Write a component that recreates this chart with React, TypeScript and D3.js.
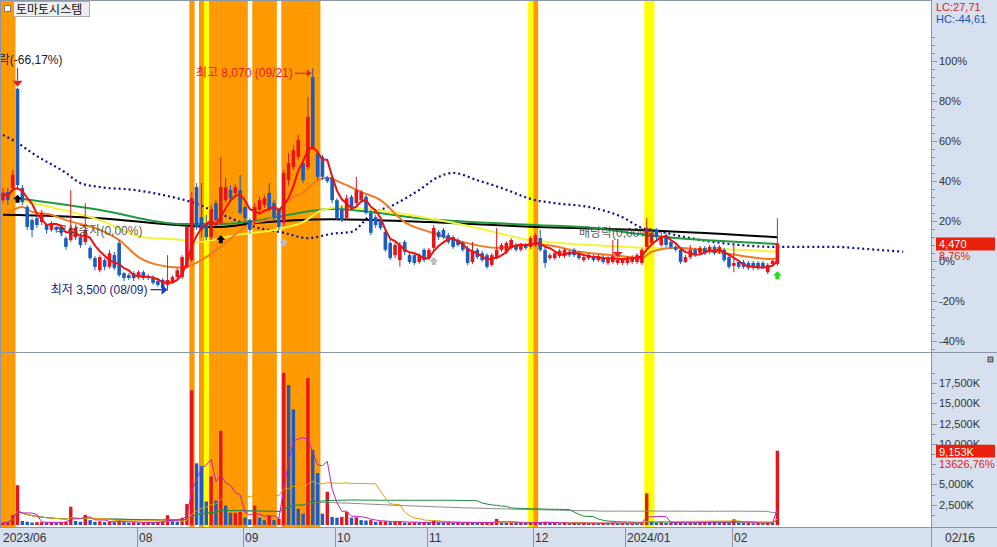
import { useEffect, useRef } from "react";
import * as d3 from "d3";

// daily bars, 2023-06-21 .. 2024-02-16 (prices in won)
const opens = [
  5360, 5530, 5610, 7650, 5610, 5220, 4950, 4990, 4910, 4850,
  4750, 4810, 4810, 4580, 4540, 4600, 4600, 4500, 4380, 4170,
  3920, 4130, 3990, 4230, 4480, 3860, 3820, 3860, 3780, 3880,
  3800, 3780, 3700, 3720, 3620, 3680, 3780, 3780, 3990, 4130,
  5630, 5010, 4890, 4600, 5300, 4890, 5360, 5570, 5510, 5570,
  5220, 4950, 4950, 5160, 5260, 5510, 5300, 5160, 4890, 5770,
  6040, 6250, 6120, 6040, 7890, 6330, 6250, 5820, 5820, 5360,
  5160, 4990, 5430, 5300, 5360, 5430, 5100, 5010, 4950, 4710,
  4480, 4230, 4130, 4500, 4230, 4230, 4090, 4340, 4170, 4380,
  4710, 4750, 4640, 4600, 4540, 4480, 4380, 4090, 4340, 4270,
  4230, 4030, 4190, 4340, 4300, 4380, 4440, 4340, 4440, 4400,
  4440, 4580, 4340, 4170, 4170, 4210, 4210, 4300, 4340, 4270,
  4130, 4170, 4210, 4130, 4190, 4070, 4090, 4070, 4070, 4070,
  4090, 4090, 4070, 4400, 4480, 4750, 4440, 4640, 4500, 4400,
  4340, 4090, 4190, 4340, 4270, 4380, 4300, 4400, 4300, 4340,
  4190, 4010, 4090, 4090, 4070, 4070, 4070, 4070, 3880, 4050,
  4050,
];
const highs = [
  5610, 5610, 5980, 7670, 5670, 5260, 4990, 5060, 5160, 4850,
  4930, 4830, 4850, 4620, 5570, 4830, 4670, 5300, 4420, 4210,
  4230, 4170, 4340, 4300, 4540, 3880, 3860, 3900, 3920, 3920,
  3840, 3820, 3740, 3760, 4230, 3820, 3970, 4230, 4850, 5530,
  5710, 5710, 5060, 5260, 5360, 6250, 5820, 5670, 5690, 5880,
  5260, 4990, 5300, 5430, 5470, 5710, 5360, 5200, 5980, 6330,
  6490, 6700, 6190, 7480, 8070, 6390, 6290, 5860, 5860, 5400,
  5260, 5470, 5470, 5840, 5570, 5470, 5160, 5060, 4990, 4750,
  4540, 4480, 4500, 4540, 4270, 4270, 4270, 4380, 4380, 4850,
  4750, 4790, 4690, 4640, 4580, 4520, 4420, 4500, 4380, 4320,
  4270, 4270, 4790, 4480, 4520, 4580, 4480, 4480, 4480, 4620,
  4690, 4750, 4380, 4270, 4320, 4360, 4380, 4340, 4380, 4320,
  4230, 4270, 4250, 4250, 4230, 4210, 4540, 4170, 4170, 4210,
  4230, 4270, 4380, 4990, 4750, 4790, 4710, 4690, 4540, 4440,
  4380, 4230, 4440, 4380, 4420, 4420, 4440, 4440, 4440, 4380,
  4230, 4480, 4130, 4130, 4110, 4110, 4110, 4110, 4070, 4130,
  4990,
];
const lows = [
  5300, 5260, 5530, 5570, 5260, 4750, 4600, 4790, 4850, 4670,
  4710, 4690, 4620, 4340, 4500, 4540, 4380, 4440, 4130, 3920,
  3880, 3920, 3950, 3920, 3780, 3700, 3720, 3700, 3740, 3720,
  3720, 3620, 3580, 3530, 3500, 3640, 3740, 3740, 3950, 4090,
  4750, 4600, 4540, 4540, 4890, 4850, 5300, 5360, 5450, 5060,
  4910, 4690, 4850, 5120, 5200, 5120, 4950, 4750, 4830, 5670,
  5980, 6190, 5710, 5980, 6390, 5770, 5770, 5710, 5300, 4950,
  4910, 4950, 5160, 5260, 5320, 5060, 4640, 4790, 4750, 4300,
  4130, 4170, 3990, 4230, 4050, 4030, 4050, 4090, 4130, 4340,
  4540, 4560, 4460, 4360, 4400, 4300, 4030, 4050, 4150, 4090,
  3950, 3990, 4150, 4300, 4250, 4340, 4300, 4300, 4340, 4360,
  4400, 4300, 3970, 4130, 4130, 4170, 4170, 4190, 4190, 4130,
  4090, 4130, 4090, 4090, 4050, 4030, 4050, 4030, 4030, 4030,
  4050, 4050, 4030, 4340, 4440, 4540, 4400, 4400, 4360, 4300,
  4050, 4070, 4150, 4190, 4230, 4230, 4250, 4230, 4250, 4090,
  3950, 3880, 3950, 3950, 3920, 3920, 3920, 3950, 3840, 4010,
  4010,
];
const closes = [
  5510, 5360, 5880, 5670, 5320, 4810, 4750, 4850, 5100, 4750,
  4890, 4750, 4690, 4400, 4790, 4790, 4440, 4750, 4170, 3990,
  4190, 3990, 4270, 3970, 3820, 3760, 3760, 3760, 3880, 3760,
  3760, 3660, 3620, 3560, 3720, 3780, 3920, 4190, 4810, 5400,
  4810, 4750, 4600, 5160, 4950, 5630, 5630, 5400, 5630, 5100,
  4990, 4750, 5220, 5360, 5400, 5160, 5010, 4810, 5920, 6120,
  6390, 6600, 5770, 7070, 6450, 5840, 5840, 5750, 5360, 4990,
  4950, 5400, 5220, 5570, 5530, 5100, 4690, 4850, 4790, 4340,
  4170, 4440, 4440, 4300, 4090, 4070, 4230, 4130, 4340, 4790,
  4600, 4600, 4500, 4400, 4440, 4340, 4070, 4300, 4190, 4130,
  3990, 4230, 4340, 4440, 4480, 4540, 4340, 4440, 4380, 4580,
  4640, 4340, 4070, 4230, 4270, 4320, 4340, 4230, 4230, 4170,
  4190, 4230, 4130, 4210, 4090, 4170, 4210, 4130, 4130, 4170,
  4190, 4230, 4340, 4790, 4690, 4600, 4580, 4440, 4400, 4340,
  4090, 4190, 4340, 4230, 4380, 4270, 4400, 4270, 4400, 4130,
  3990, 4070, 3990, 3990, 3970, 3970, 3970, 3990, 4030, 4110,
  4470,
];
// volume in thousands of shares
const volumes = [
  300, 400, 1250, 4900, 500, 400, 300, 350, 350, 300,
  350, 300, 350, 400, 2250, 500, 400, 1250, 600, 400,
  450, 350, 400, 350, 600, 350, 300, 350, 300, 300,
  350, 300, 400, 450, 1200, 500, 400, 900, 2600, 16600,
  7600, 7250, 2900, 6000, 3000, 11600, 2400, 1500, 1500, 1600,
  900, 700, 2400, 900, 600, 1200, 600, 800, 18750, 17250,
  14250, 2000, 1400, 18100, 9250, 6400, 1400, 4100, 1000, 900,
  1000, 1600, 900, 950, 600, 550, 600, 400, 450, 450,
  350, 400, 450, 300, 300, 350, 300, 350, 300, 500,
  350, 300, 300, 250, 300, 250, 350, 300, 250, 300,
  300, 350, 750, 300, 250, 300, 250, 300, 250, 300,
  350, 300, 400, 250, 250, 200, 250, 200, 250, 200,
  250, 200, 250, 200, 250, 200, 300, 200, 250, 200,
  250, 200, 350, 3900, 400, 300, 350, 250, 300, 250,
  300, 250, 300, 250, 350, 400, 350, 400, 300, 350,
  300, 700, 300, 250, 250, 200, 250, 200, 300, 250,
  9153,
];

const monthStarts = [0, 28, 50, 69, 88, 110, 129, 151];
const monthLabels = ["2023/06", "08", "09", "10", "11", "12", "2024/01", "02"];

// highlighted days (bar index)
const orangeDays = [0, 1, 2, 39, 41, 43, 44, 45, 46, 47, 48, 49, 50, 52, 53, 54, 55, 56, 58, 59, 60, 61, 62, 63, 64, 65, 110];
const yellowDays = [42, 109, 133, 134];

// moving averages: [bar index, price]
const ma20Knots = [
  [1, 5100], [4, 5220], [6, 5120], [10, 5060], [13, 4950], [20, 4750], [24, 4540], [28, 4190],
  [32, 4030], [37, 3970], [39, 4030], [42, 4190], [45, 4400], [51, 4870], [55, 4970], [57, 5100],
  [59, 5360], [62, 5510], [65, 5770], [67, 5820], [70, 5710], [74, 5530], [78, 5360], [83, 4910],
  [88, 4710], [95, 4500], [102, 4380], [109, 4440], [112, 4440], [119, 4300], [126, 4230],
  [132, 4170], [134, 4300], [139, 4380], [149, 4270], [159, 4150], [160, 4170],
];
const ma60Knots = [
  [3, 5360], [5, 5320], [20, 4950], [29, 4600], [37, 4540], [40, 4500], [48, 4640], [58, 4790],
  [62, 4910], [66, 5160], [70, 5220], [81, 5100], [98, 4790], [109, 4540], [129, 4400],
  [152, 4340], [160, 4300],
];
const ma120Knots = [
  [3, 5400], [20, 5160], [37, 4870], [45, 4870], [52, 4930], [58, 5040], [68, 5180], [88, 4970],
  [110, 4850], [122, 4790], [133, 4640], [152, 4500], [160, 4460],
];
const ma240Knots = [
  [0, 5060], [20, 4990], [36, 4850], [45, 4810], [52, 4890], [68, 4970], [88, 4910],
  [110, 4810], [130, 4750], [160, 4600],
];
// leading span, runs 26 bars past the last day
const spanKnots = [
  [0, 6700], [3, 6540], [6, 6330], [13, 5920], [16, 5710], [20, 5630], [27, 5570], [36, 5400],
  [39, 5320], [44, 5120], [48, 4950], [52, 4810], [58, 4690], [63, 4580], [68, 4670], [72, 4710],
  [76, 5060], [81, 5280], [86, 5570], [90, 5840], [93, 5920], [98, 5770], [103, 5610], [110, 5360],
  [114, 5300], [122, 5200], [128, 5010], [132, 4790], [135, 4730], [142, 4580], [152, 4440],
  [159, 4400], [172, 4400], [178, 4360], [186, 4300],
];

// signal arrows: bar, price level of the arrow tip, kind
const signals = [
  { i: 3, p: 5470, kind: "up", color: "#000" },
  { i: 45, p: 4640, kind: "up", color: "#000" },
  { i: 58, p: 4580, kind: "up", color: "#b8bcc8" },
  { i: 89, p: 4190, kind: "up", color: "#b8bcc8" },
  { i: 160, p: 3900, kind: "up", color: "#22dd22" },
  { i: 127, p: 4190, kind: "down", color: "#e8201c" },
];

const pctTicks = [-40, -20, 0, 20, 40, 60, 80, 100];
const volTicks = [2500, 5000, 10000, 12500, 15000, 17500];
const volPeriods = [120, 60, 20, 5];
const volColors = ["#8a8a8a", "#1a8a3a", "#e0a010", "#c020c0"];

const FONT = "'Liberation Sans', 'Noto Sans CJK KR', sans-serif";

export default function App() {
  const width = 997;
  const height = 547;
  const ref = useRef(null);

  useEffect(() => {
    const svg = d3.select(ref.current);
    svg.selectAll("*").remove();

    const axisX = 931;
    const priceBottom = 352;
    const volBottom = 527;
    const base = 4110; // previous close = 0%
    const n = closes.length;

    const x = d3.scaleLinear().domain([0, 160]).range([3, 777.4]);
    const step = x(1) - x(0);
    const yPct = d3.scaleLinear().domain([-45, 127]).range([351, 7]);
    const yP = (p) => yPct((p / base - 1) * 100);
    const yV = d3.scaleLinear().domain([0, 17500]).range([525, 383]);

    svg.append("rect").attr("width", width).attr("height", height).attr("fill", "#fff");

    // highlight bands over both panels
    const bandG = svg.append("g");
    const addBands = (days, color) =>
      bandG
        .selectAll(null)
        .data(days)
        .enter()
        .append("rect")
        .attr("x", (d) => Math.max(0, x(d) - step / 2))
        .attr("y", 1)
        .attr("width", (d) => x(d) + step / 2 + 0.4 - Math.max(0, x(d) - step / 2))
        .attr("height", volBottom - 1)
        .attr("fill", color);
    addBands(orangeDays, "#ff9900");
    addBands(yellowDays, "#ffff00");

    const defs = svg.append("defs");
    defs.append("clipPath").attr("id", "pclip").append("rect")
      .attr("x", 0).attr("y", 1).attr("width", axisX).attr("height", priceBottom - 1);
    defs.append("clipPath").attr("id", "vclip").append("rect")
      .attr("x", 0).attr("y", priceBottom + 1).attr("width", axisX).attr("height", volBottom - priceBottom - 1);

    const price = svg.append("g").attr("clip-path", "url(#pclip)");
    const knotLine = d3.line().x((d) => x(d[0])).y((d) => yP(d[1])).curve(d3.curveMonotoneX);

    price.append("path").attr("d", knotLine(spanKnots)).attr("fill", "none")
      .attr("stroke", "#10108c").attr("stroke-width", 2.2).attr("stroke-dasharray", "2,3");
    price.append("path").attr("d", knotLine(ma240Knots)).attr("fill", "none")
      .attr("stroke", "#000").attr("stroke-width", 2);
    price.append("path").attr("d", knotLine(ma120Knots)).attr("fill", "none")
      .attr("stroke", "#1e9a40").attr("stroke-width", 2);
    price.append("path").attr("d", knotLine(ma60Knots)).attr("fill", "none")
      .attr("stroke", "#f4f43c").attr("stroke-width", 2);
    price.append("path").attr("d", knotLine(ma20Knots)).attr("fill", "none")
      .attr("stroke", "#f27a20").attr("stroke-width", 2);

    // candles
    const idx = d3.range(n);
    const up = (i) => closes[i] >= opens[i];
    const candle = price.selectAll("g.c").data(idx).enter().append("g");
    candle.append("line")
      .attr("x1", (i) => x(i)).attr("x2", (i) => x(i))
      .attr("y1", (i) => yP(highs[i])).attr("y2", (i) => yP(lows[i]))
      .attr("stroke", (i) => (up(i) ? "#e8141c" : "#1a5cc4")).attr("stroke-width", 1);
    candle.append("rect")
      .attr("x", (i) => x(i) - 1.8).attr("width", 3.6)
      .attr("y", (i) => yP(Math.max(opens[i], closes[i])))
      .attr("height", (i) => Math.max(1, Math.abs(yP(opens[i]) - yP(closes[i]))))
      .attr("fill", (i) => (up(i) ? "#e8141c" : "#1a5cc4"));

    // 5-day average
    const ma5 = closes.map((c, i) => d3.mean(closes.slice(Math.max(0, i - 4), i + 1)));
    price.append("path")
      .attr("d", d3.line().x((d, i) => x(i)).y((d) => yP(d))(ma5))
      .attr("fill", "none").attr("stroke", "#f01010").attr("stroke-width", 2);

    // signal arrows
    signals.forEach((s) => {
      const cx = x(s.i);
      const ty = yP(s.p);
      const d = s.kind === "up"
        ? `M${cx},${ty} L${cx + 4.5},${ty + 4.5} L${cx + 2},${ty + 4.5} L${cx + 2},${ty + 8} L${cx - 2},${ty + 8} L${cx - 2},${ty + 4.5} L${cx - 4.5},${ty + 4.5} Z`
        : `M${cx},${ty} L${cx + 5},${ty - 5} L${cx - 5},${ty - 5} Z`;
      if (s.kind === "down") {
        price.append("line").attr("x1", cx).attr("x2", cx).attr("y1", ty - 18).attr("y2", ty - 5)
          .attr("stroke", s.color).attr("stroke-width", 1.2);
      }
      price.append("path").attr("d", d).attr("fill", s.color);
    });

    // rights-issue marker over the spike bar
    const rx = x(3);
    const ry = yP(highs[3]);
    price.append("line").attr("x1", rx).attr("x2", rx).attr("y1", ry - 20).attr("y2", ry - 7)
      .attr("stroke", "#e8201c").attr("stroke-width", 1.2);
    price.append("path").attr("d", `M${rx - 5},${ry - 7} L${rx + 5},${ry - 7} L${rx},${ry - 1} Z`).attr("fill", "#e8201c");
    price.append("text").attr("x", rx + 45).attr("y", ry - 24).attr("text-anchor", "end")
      .attr("font-family", FONT).attr("font-size", 12).attr("fill", "#222").text("권리락(-66,17%)");

    // event labels
    price.append("text").attr("x", x(11)).attr("y", yP(4640))
      .attr("font-family", FONT).attr("font-size", 12).attr("fill", "#444").attr("opacity", 0.85)
      .text("무상증자(0,00%)");
    price.append("text").attr("x", x(119)).attr("y", yP(4600))
      .attr("font-family", FONT).attr("font-size", 12).attr("fill", "#444").attr("opacity", 0.85)
      .text("배당락(0,00%)");

    // high / low labels
    const hx = x(64);
    const hy = yP(8070) + 5;
    price.append("text").attr("x", hx - 20).attr("y", hy + 4).attr("text-anchor", "end")
      .attr("font-family", FONT).attr("font-size", 12).attr("fill", "#e8201c").text("최고 8,070 (09/21)");
    price.append("line").attr("x1", hx - 18).attr("x2", hx - 6).attr("y1", hy).attr("y2", hy)
      .attr("stroke", "#e8201c").attr("stroke-width", 1.2);
    price.append("path").attr("d", `M${hx - 6},${hy - 3.5} L${hx - 1},${hy} L${hx - 6},${hy + 3.5} Z`).attr("fill", "#e8201c");

    const lx = x(34);
    const ly = yP(3500) - 1;
    price.append("text").attr("x", lx - 20).attr("y", ly + 4).attr("text-anchor", "end")
      .attr("font-family", FONT).attr("font-size", 12).attr("fill", "#1a237e").text("최저 3,500 (08/09)");
    price.append("line").attr("x1", lx - 17).attr("x2", lx - 6).attr("y1", ly).attr("y2", ly)
      .attr("stroke", "#1a237e").attr("stroke-width", 1.2);
    price.append("path").attr("d", `M${lx - 6},${ly - 5} L${lx},${ly} L${lx - 6},${ly + 5} Z`).attr("fill", "#1a3ad0");

    // volume bars
    const vol = svg.append("g").attr("clip-path", "url(#vclip)");
    vol.selectAll("rect.v").data(idx).enter().append("rect")
      .attr("x", (i) => x(i) - 1.7).attr("width", 3.4)
      .attr("y", (i) => yV(volumes[i]))
      .attr("height", (i) => yV(0) - yV(volumes[i]))
      .attr("fill", (i) => (i === 0 || volumes[i] >= volumes[i - 1] ? "#e8141c" : "#1a5cc4"));

    volPeriods.forEach((p, k) => {
      const avg = volumes.map((v, i) => d3.mean(volumes.slice(Math.max(0, i - p + 1), i + 1)));
      vol.append("path")
        .attr("d", d3.line().x((d, i) => x(i)).y((d) => yV(d))(avg))
        .attr("fill", "none").attr("stroke", volColors[k]).attr("stroke-width", 1);
    });

    // frame lines
    svg.append("line").attr("x1", 0).attr("x2", width).attr("y1", priceBottom + 0.5).attr("y2", priceBottom + 0.5)
      .attr("stroke", "#8c96a8");
    svg.append("line").attr("x1", 0.5).attr("x2", 0.5).attr("y1", 0).attr("y2", volBottom).attr("stroke", "#8c96a8");
    svg.append("line").attr("x1", 0).attr("x2", axisX).attr("y1", 0.5).attr("y2", 0.5).attr("stroke", "#8c96a8");

    // right axis panel
    svg.append("rect").attr("x", axisX).attr("y", 0).attr("width", width - axisX).attr("height", height).attr("fill", "#d6e0ee");
    svg.append("rect").attr("x", 0).attr("y", volBottom).attr("width", axisX).attr("height", height - volBottom).attr("fill", "#d6e0ee");
    svg.append("line").attr("x1", axisX + 0.5).attr("x2", axisX + 0.5).attr("y1", 0).attr("y2", height).attr("stroke", "#8c96a8");
    svg.append("line").attr("x1", axisX).attr("x2", width).attr("y1", priceBottom + 0.5).attr("y2", priceBottom + 0.5).attr("stroke", "#8c96a8");
    svg.append("line").attr("x1", 0).attr("x2", width).attr("y1", volBottom + 0.5).attr("y2", volBottom + 0.5).attr("stroke", "#8c96a8");

    const ax = svg.append("g").attr("font-family", FONT).attr("font-size", 11).attr("fill", "#333");
    d3.range(-44, 129, 4).forEach((v) => {
      const y = Math.round(yPct(v)) + 0.5;
      if (y < 32 || y > priceBottom - 2) return;
      ax.append("line").attr("x1", axisX).attr("x2", axisX + (v % 20 === 0 ? 6 : 4)).attr("y1", y).attr("y2", y)
        .attr("stroke", "#8c96a8");
    });
    pctTicks.forEach((v) => {
      ax.append("text").attr("x", axisX + 8).attr("y", yPct(v) + 4).text(`${v}%`);
    });
    d3.range(0, 21250, 1250).forEach((v) => {
      const y = Math.round(yV(v)) + 0.5;
      if (y < priceBottom + 12 || y > volBottom - 2) return;
      ax.append("line").attr("x1", axisX).attr("x2", axisX + (v % 2500 === 0 ? 6 : 4)).attr("y1", y).attr("y2", y)
        .attr("stroke", "#8c96a8");
    });
    volTicks.forEach((v) => {
      ax.append("text").attr("x", axisX + 8).attr("y", yV(v) + 4).text(`${d3.format(",")(v)}K`);
    });

    // last value boxes
    const lastY = yP(closes[n - 1]);
    ax.append("rect").attr("x", axisX + 5).attr("y", lastY - 6).attr("width", width - axisX - 7).attr("height", 13).attr("fill", "#e8200c");
    ax.append("text").attr("x", axisX + 8).attr("y", lastY + 5).attr("fill", "#fff").text(d3.format(",")(closes[n - 1]));
    ax.append("text").attr("x", axisX + 8).attr("y", lastY + 17).attr("fill", "#e8200c")
      .text(`${d3.format(".2f")((closes[n - 1] / base - 1) * 100).replace(".", ",")}%`);

    const vY = yV(volumes[n - 1]);
    ax.append("rect").attr("x", axisX + 5).attr("y", vY - 6).attr("width", width - axisX - 7).attr("height", 13).attr("fill", "#e8200c");
    ax.append("text").attr("x", axisX + 8).attr("y", vY + 5).attr("fill", "#fff").text(`${d3.format(",")(volumes[n - 1])}K`);
    ax.append("rect").attr("x", axisX + 5).attr("y", vY + 7).attr("width", width - axisX - 7).attr("height", 12).attr("fill", "#d6e0ee");
    ax.append("text").attr("x", axisX + 8).attr("y", vY + 17).attr("fill", "#e8200c").text("13626,76%");

    ax.append("text").attr("x", axisX + 5).attr("y", 11).attr("fill", "#e0201c").text("LC:27,71");
    ax.append("text").attr("x", axisX + 5).attr("y", 23).attr("fill", "#2050b0").text("HC:-44,61");

    // small close box on the volume pane
    ax.append("rect").attr("x", 987.5).attr("y", 356.5).attr("width", 6).attr("height", 6).attr("fill", "#666");
    ax.append("path").attr("d", "M989,358 L992,361 M992,358 L989,361").attr("stroke", "#fff").attr("stroke-width", 0.8);

    // date axis
    monthStarts.forEach((m, k) => {
      const sx = Math.round(x(m) - 2) + 0.5;
      if (k > 0) {
        ax.append("line").attr("x1", sx).attr("x2", sx).attr("y1", volBottom).attr("y2", height).attr("stroke", "#8c96a8");
      }
      ax.append("text").attr("x", k === 0 ? 3 : sx + 1.5).attr("y", 542).attr("font-size", 12).text(monthLabels[k]);
    });
    ax.append("text").attr("x", axisX + 14).attr("y", 542).attr("font-size", 12).text("02/16");

    // title box
    svg.append("rect").attr("x", 4.5).attr("y", 5.5).attr("width", 6).attr("height", 6).attr("fill", "#fff").attr("stroke", "#777");
    svg.append("rect").attr("x", 13.5).attr("y", 1.5).attr("width", 76).attr("height", 15).attr("fill", "#eeeeee").attr("stroke", "#aaa");
    svg.append("text").attr("x", 16).attr("y", 14).attr("font-family", "'Noto Sans CJK KR', sans-serif")
      .attr("font-size", 12).attr("fill", "#111").text("토마토시스템");
  }, []);

  return (
    <svg
      ref={ref}
      width={width}
      height={height}
      style={{ position: "absolute", left: 0, top: 0, display: "block" }}
    />
  );
}
